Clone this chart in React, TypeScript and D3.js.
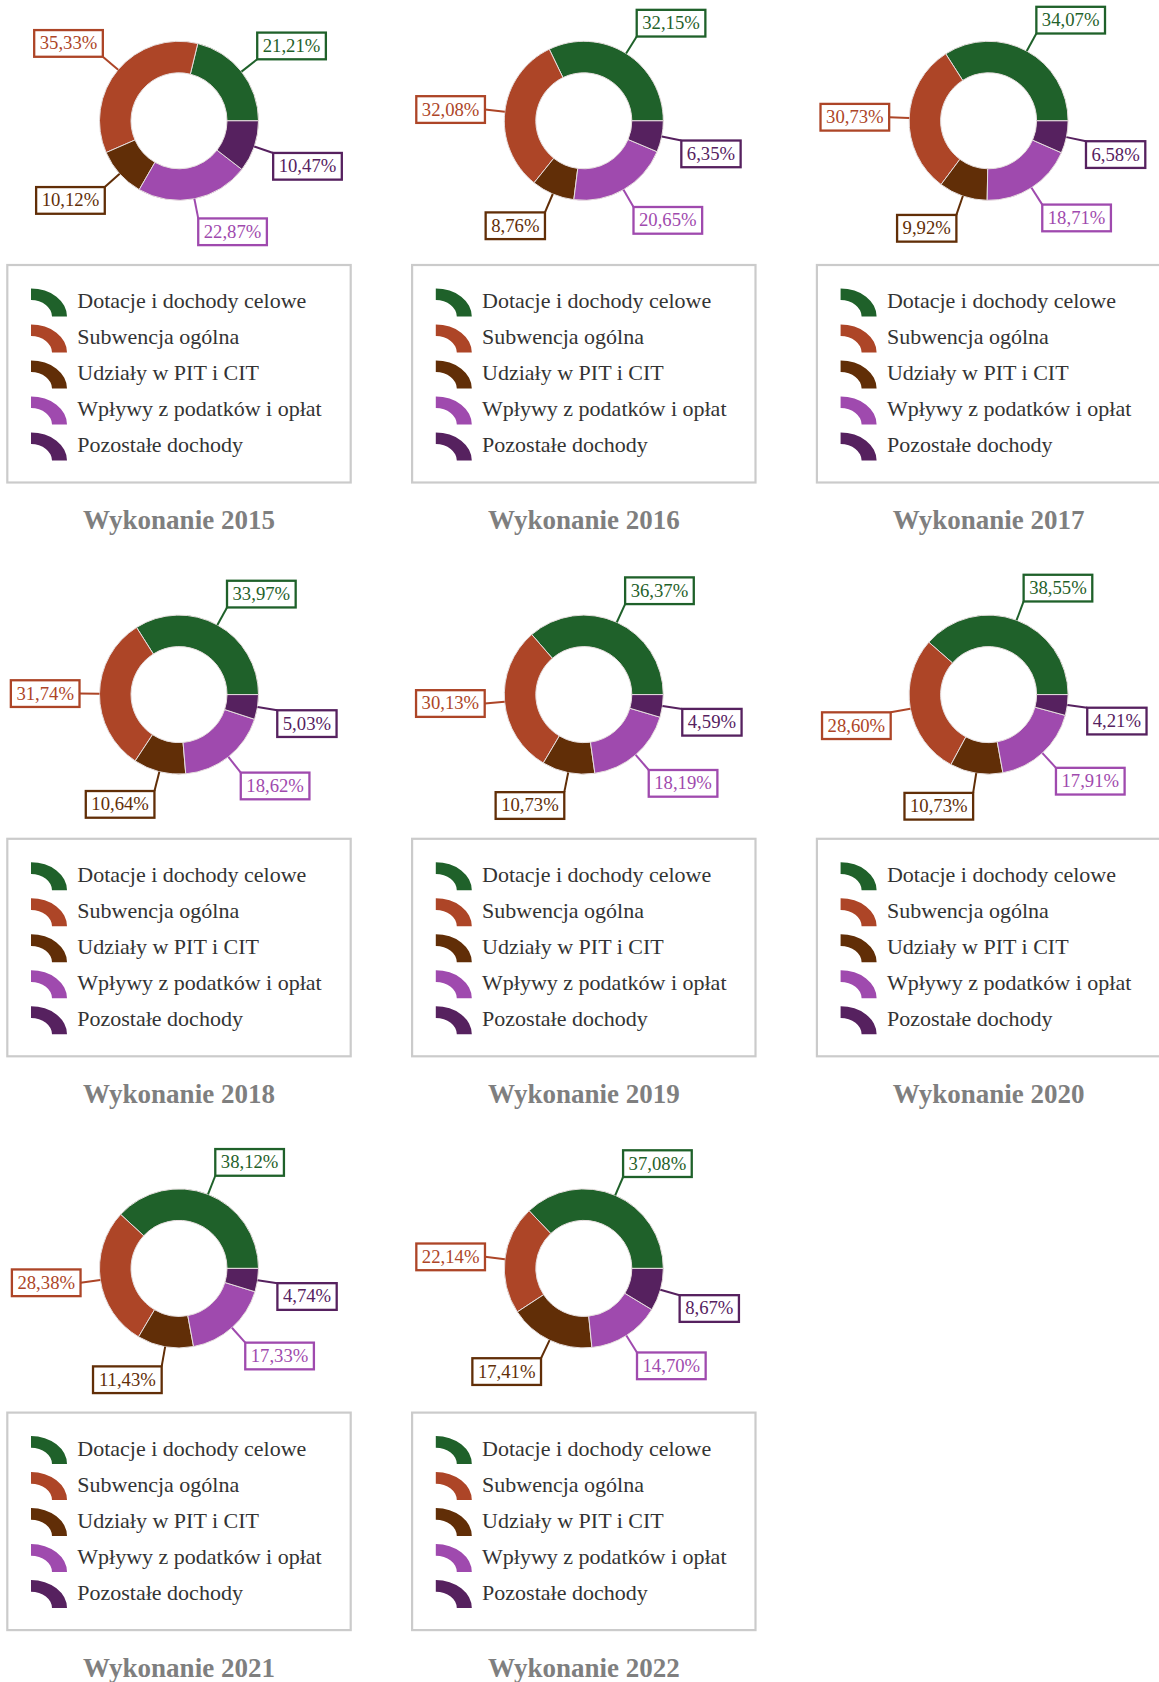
import React from 'react';
import * as d3 from 'd3';

const categories = [
  'Dotacje i dochody celowe',
  'Subwencja ogólna',
  'Udziały w PIT i CIT',
  'Wpływy z podatków i opłat',
  'Pozostałe dochody',
];
const colors = ['#1f612a', '#ad4527', '#612e07', '#9f4aae', '#56215f'];

const years = ['2015', '2016', '2017', '2018', '2019', '2020', '2021', '2022'];
const v2015 = [21.21, 35.33, 10.12, 22.87, 10.47];
const v2016 = [32.15, 32.08, 8.76, 20.65, 6.35];
const v2017 = [34.07, 30.73, 9.92, 18.71, 6.58];
const v2018 = [33.97, 31.74, 10.64, 18.62, 5.03];
const v2019 = [36.37, 30.13, 10.73, 18.19, 4.59];
const v2020 = [38.55, 28.6, 10.73, 17.91, 4.21];
const v2021 = [38.12, 28.38, 11.43, 17.33, 4.74];
const v2022 = [37.08, 22.14, 17.41, 14.7, 8.67];
const series = [v2015, v2016, v2017, v2018, v2019, v2020, v2021, v2022];

const W = 1159;
const H = 1682;
const colW = 404.8;
const rowH = 573.8;
const boxW = 343.4;
const boxH = 217.5;
const R = 79.5;
const r0 = 48;
const labelFont = 18.7;
const serif = '"Liberation Serif", "Times New Roman", serif';

const fmt = (v: number) => v.toFixed(2).replace('.', ',') + '%';
// Times metrics: digits .5em, comma .25em, percent .833em
const textW = (s: string) =>
  s.split('').reduce((a, c) => a + (c === ',' ? 0.25 : c === '%' ? 0.833 : 0.5), 0) * labelFont;

const pie = d3
  .pie<number>()
  .sort(null)
  .value((d) => d)
  .startAngle(Math.PI / 2)
  .endAngle(Math.PI / 2 - 2 * Math.PI);

const arc = d3.arc<d3.PieArcDatum<number>>().innerRadius(r0).outerRadius(R);
const legendArc = d3.arc()({
  innerRadius: 21,
  outerRadius: 36,
  startAngle: 0,
  endAngle: Math.PI / 2,
} as any) as string;

const Panel = ({ values, year, col, row }: { values: number[]; year: string; col: number; row: number }) => {
  const bx = 7.3 + col * colW;
  const by = 265 + row * rowH;
  const cx = bx + boxW / 2;
  const cy = 120.8 + row * rowH;
  const arcs = pie(values);

  return (
    <g>
      <g transform={`translate(${cx},${cy})`}>
        {arcs.map((a, i) => (
          <path key={i} d={arc(a) as string} fill={colors[i]} stroke="#e6dede" strokeWidth={1} />
        ))}
        {arcs.map((a, i) => {
          const mid = (a.startAngle + a.endAngle) / 2;
          const sx = Math.sin(mid);
          const sy = -Math.cos(mid);
          const ex = sx * (R + 20);
          const ey = sy * (R + 20);
          const txt = fmt(values[i]);
          const w = textW(txt) + 11;
          const h = 26.7;
          const x = sx >= 0 ? ex : ex - w;
          const y = sx < -0.985 ? ey - h / 2 : sy > 0 ? ey : ey - h;
          return (
            <g key={'l' + i}>
              <line x1={sx * R} y1={sy * R} x2={ex} y2={ey} stroke={colors[i]} strokeWidth={2} />
              <rect x={x} y={y} width={w} height={h} fill="#fff" stroke={colors[i]} strokeWidth={2.3} />
              <text
                x={x + w / 2}
                y={y + 19.3}
                textAnchor="middle"
                fontFamily={serif}
                fontSize={labelFont}
                fill={colors[i]}
              >
                {txt}
              </text>
            </g>
          );
        })}
      </g>
      <rect x={bx} y={by} width={boxW} height={boxH} fill="none" stroke="#cbcbcb" strokeWidth={2.2} />
      {categories.map((c, i) => (
        <g key={c}>
          <path
            d={legendArc}
            fill={colors[i]}
            transform={`translate(${bx + 23.7},${by + 23.5 + i * 36 + 28}) scale(1,0.78)`}
          />
          <text x={bx + 70} y={by + 43 + i * 36} fontFamily={serif} fontSize={22} fill="#333">
            {c}
          </text>
        </g>
      ))}
      <text
        x={cx}
        y={529.3 + row * rowH}
        textAnchor="middle"
        fontFamily={serif}
        fontWeight="bold"
        fontSize={27}
        fill="#7f7f7f"
      >
        {'Wykonanie ' + year}
      </text>
    </g>
  );
};

export default function App() {
  return (
    <svg
      width={W}
      height={H}
      style={{ position: 'absolute', left: 0, top: 0, background: '#fff' }}
    >
      {years.map((y, i) => (
        <Panel key={y} values={series[i]} year={y} col={i % 3} row={Math.floor(i / 3)} />
      ))}
    </svg>
  );
}
